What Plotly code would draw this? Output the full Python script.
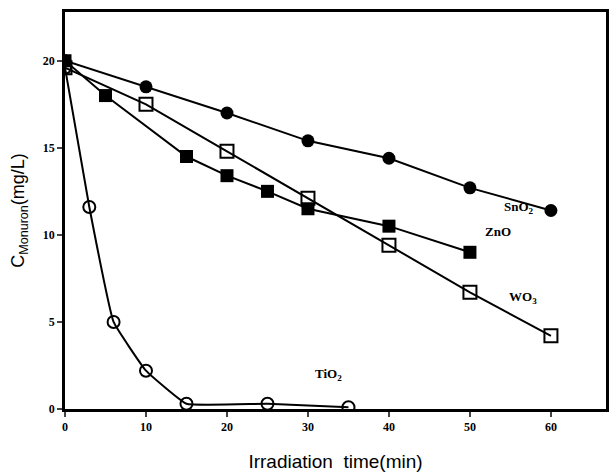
import plotly.graph_objects as go

sno2_t = [0, 10, 20, 30, 40, 50, 60]
sno2_c = [20, 18.5, 17.0, 15.4, 14.4, 12.7, 11.4]
zno_t = [0, 5, 15, 20, 25, 30, 40, 50]
zno_c = [20, 18.0, 14.5, 13.4, 12.5, 11.5, 10.5, 9.0]
wo3_t = [0, 10, 20, 30, 40, 50, 60]
wo3_c = [19.6, 17.5, 14.8, 12.1, 9.4, 6.7, 4.2]
tio2_t = [0, 3, 6, 10, 15, 25, 35]
tio2_c = [19.6, 11.6, 5.0, 2.2, 0.3, 0.3, 0.1]
x_ticks = [0, 10, 20, 30, 40, 50, 60]
y_ticks = [0, 5, 10, 15, 20]

fig = go.Figure()
fig.add_trace(go.Scatter(x=sno2_t, y=sno2_c, mode="lines+markers",
    line=dict(color="black", width=2),
    marker=dict(symbol="circle", size=13, color="black")))
fig.add_trace(go.Scatter(x=zno_t, y=zno_c, mode="lines+markers",
    line=dict(color="black", width=2),
    marker=dict(symbol="square", size=13, color="black")))
fig.add_trace(go.Scatter(x=wo3_t, y=wo3_c, mode="lines+markers",
    line=dict(color="black", width=2),
    marker=dict(symbol="square-open", size=13, color="black", line=dict(width=2))))
fig.add_trace(go.Scatter(x=tio2_t, y=tio2_c, mode="lines+markers",
    line=dict(color="black", width=2, shape="spline", smoothing=0.3),
    marker=dict(symbol="circle-open", size=12, color="black", line=dict(width=2))))

labels = [("SnO<sub>2</sub>", 56.0, 11.6), ("ZnO", 53.5, 10.2),
          ("WO<sub>3</sub>", 56.5, 6.4), ("TiO<sub>2</sub>", 32.5, 2.0)]
for txt, lx, ly in labels:
    fig.add_annotation(x=lx, y=ly, text=txt, showarrow=False,
        font=dict(family="Liberation Serif", size=13, color="black", weight="bold"))

fig.update_layout(
    width=613, height=476,
    margin=dict(l=65, r=4, t=12, b=67),
    plot_bgcolor="white", paper_bgcolor="white",
    showlegend=False,
)
fig.update_xaxes(range=[0, 66.8], tickvals=x_ticks, ticks="outside", ticklen=5,
    tickwidth=2, showline=True, linewidth=2.5, linecolor="black", mirror=True,
    showgrid=False, zeroline=False,
    tickfont=dict(family="Liberation Serif", size=12, color="black", weight="bold"),
    title=dict(text="Irradiation  time(min)", standoff=22,
               font=dict(family="Liberation Sans", size=19, color="black")))
fig.update_yaxes(range=[0, 22.8], tickvals=y_ticks, ticks="outside", ticklen=5,
    tickwidth=2, showline=True, linewidth=2.5, linecolor="black", mirror=True,
    showgrid=False, zeroline=False,
    tickfont=dict(family="Liberation Serif", size=12, color="black", weight="bold"),
    title=dict(text="C<sub>Monuron</sub>(mg/L)", standoff=14,
               font=dict(family="Liberation Sans", size=18, color="black")))

fig.write_html("out.html")
